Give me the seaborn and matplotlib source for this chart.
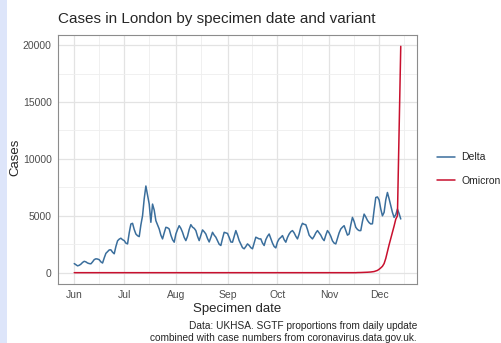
import numpy as np
import pandas as pd
import matplotlib
matplotlib.use("Agg")
import matplotlib.pyplot as plt
import matplotlib.dates as mdates
from matplotlib.lines import Line2D
from matplotlib.patches import Rectangle
import seaborn as sns

# daily cases in London, 1 Jun 2021 .. 14 Dec 2021
dates = pd.date_range("2021-06-01", "2021-12-14", freq="D")

delta = [
    800, 700, 600, 650, 750, 900, 1000,
    950, 850, 800, 780, 950, 1150, 1220,
    1200, 1140, 950, 850, 1300, 1700, 1850,
    2000, 2010, 1800, 1660, 2300, 2800, 2950,
    3030, 2900, 2820, 2600, 2530, 3500, 4280,
    4340, 3800, 3400, 3250, 3170, 4200, 5000,
    6500, 7620, 6800, 6030, 4430, 6030, 5500,
    4570, 4200, 3840, 3300, 2970, 3500, 3990,
    3950, 3840, 3300, 2900, 2680, 3400, 3800,
    4130, 3900, 3550, 3100, 2820, 3200, 3800,
    4220, 4000, 3900, 3700, 3200, 2820, 3300,
    3760, 3600, 3400, 3000, 2700, 3100, 3550,
    3300, 3120, 2800, 2500, 2390, 3000, 3550,
    3500, 3450, 3100, 2700, 2680, 3200, 3700,
    3300, 2820, 2500, 2200, 2100, 2300, 2530,
    2400, 2200, 2100, 2600, 3120, 3050, 2970,
    2970, 2600, 2390, 2900, 3200, 3400, 3000,
    2600, 2300, 2180, 2700, 2970, 3100, 3260,
    2900, 2680, 3100, 3400, 3600, 3700, 3500,
    3200, 2970, 3400, 4000, 4340, 4250, 4220,
    3800, 3300, 3120, 2970, 3200, 3500, 3700,
    3500, 3300, 3000, 2820, 3300, 3700, 3500,
    3200, 2800, 2600, 2530, 3000, 3500, 3840,
    4000, 4130, 3700, 3300, 3400, 4200, 4860,
    4500, 3990, 3800, 3700, 3700, 4500, 5150,
    4900, 4600, 4400, 4280, 4300, 5500, 6610,
    6660, 6400, 5600, 5000, 5300, 6400, 7050,
    6500, 5880, 5300, 4860, 5100, 5590, 5200,
    4720,
]

omicron = [0] * 170 + [
    10, 10, 15, 20, 25, 30, 40, 50, 60, 80, 100, 150,
    200, 300, 420, 560, 800, 1250, 1850, 2450, 3000, 3550,
    4100, 4700, 5000, 12400, 19900,
]

variants = ["Delta", "Omicron"]
colours = ["#3a6e9c", "#c8102e"]

df = pd.concat([
    pd.DataFrame({"date": dates, "cases": delta, "variant": "Delta"}),
    pd.DataFrame({"date": dates, "cases": omicron, "variant": "Omicron"}),
])

sns.set_style("white")
plt.rcParams["font.family"] = ["Liberation Sans", "DejaVu Sans"]

fig = plt.figure(figsize=(5.02, 3.43), dpi=100)
fig.patches.append(Rectangle((0, 0), 7 / 502, 1, transform=fig.transFigure,
                             facecolor="#dde5fa", edgecolor="none"))
ax = fig.add_axes([58 / 502, 59 / 343, 359 / 502, 249 / 343])

sns.lineplot(data=df, x="date", y="cases", hue="variant", hue_order=variants,
             palette=colours, linewidth=1.1, ax=ax, legend=False, zorder=3)

ax.set_xlim(pd.Timestamp("2021-05-22 06:00"), pd.Timestamp("2021-12-23 18:00"))
ax.set_ylim(-995, 20895)

ax.xaxis.set_major_locator(mdates.MonthLocator())
ax.xaxis.set_major_formatter(mdates.DateFormatter("%b"))
ax.xaxis.set_minor_locator(mdates.MonthLocator(bymonthday=16))
ax.set_yticks([0, 5000, 10000, 15000, 20000])
ax.set_yticks([2500, 7500, 12500, 17500], minor=True)

ax.grid(True, which="major", color="#e3e3e3", linewidth=0.9, zorder=0)
ax.grid(True, which="minor", color="#eeeeee", linewidth=0.6, zorder=0)
ax.set_axisbelow(True)

ax.tick_params(which="major", length=2.5, width=0.7, color="#333333",
               labelsize=7.5, labelcolor="#4d4d4d", pad=2)
ax.tick_params(which="minor", length=0)
for s in ax.spines.values():
    s.set_color("#8c8c8c")
    s.set_linewidth(0.8)

ax.set_xlabel("Specimen date", fontsize=9.5, labelpad=2)
ax.set_ylabel("Cases", fontsize=9.5)
ax.yaxis.set_label_coords(-0.102, 0.51)
ax.set_title("Cases in London by specimen date and variant", fontsize=11,
             loc="left", pad=9)

handles = [Line2D([], [], color=c, linewidth=1.1) for c in colours]
fig.legend(handles, variants, loc="center left", bbox_to_anchor=(428 / 502, 1 - 169 / 343),
           frameon=False, fontsize=7.5, handlelength=1.7, handletextpad=0.6,
           labelspacing=1.3)

fig.text(417 / 502, 1 - 326 / 343, "Data: UKHSA. SGTF proportions from daily update",
         ha="right", va="center", fontsize=7.3)
fig.text(417 / 502, 1 - 338 / 343, "combined with case numbers from coronavirus.data.gov.uk.",
         ha="right", va="center", fontsize=7.3)

fig.savefig("out.png", dpi=100)
